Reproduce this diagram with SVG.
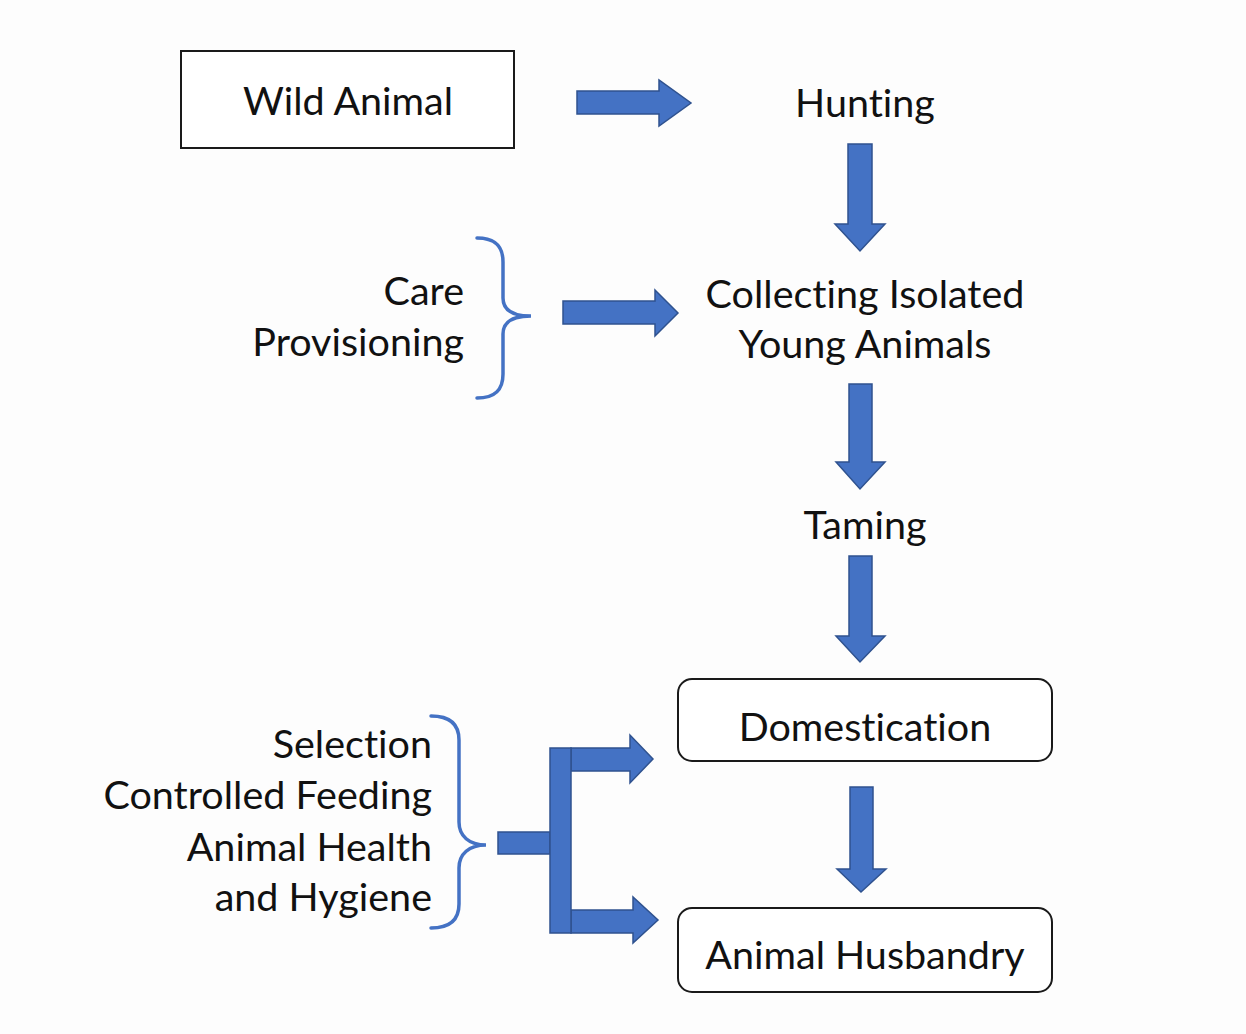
<svg xmlns="http://www.w3.org/2000/svg" width="1246" height="1034" viewBox="0 0 1246 1034">
<style>
.t{font-family:Lato,"Liberation Sans",sans-serif;font-size:39.5px;fill:#111;font-variant-ligatures:none;font-feature-settings:"liga" 0}
.c{text-anchor:middle}
.r{text-anchor:end}
.box{fill:#fff;stroke:#1a1a1a;stroke-width:2}
.arr{fill:#4472C4;stroke:#2F528F;stroke-width:1.5;stroke-linejoin:miter}
.brace{fill:none;stroke:#4472C4;stroke-width:3.5;stroke-linecap:round}
</style>
<rect width="1246" height="1034" fill="#fdfdfd"/>
<g id="wild-animal">
<rect class="box" x="181" y="51" width="333" height="97"/>
<text class="t c" x="348" y="115">Wild Animal</text>
</g>
<g id="hunting"><text class="t c" x="865" y="117">Hunting</text></g>
<g id="care-provisioning">
<text class="t r" x="464" y="305">Care</text>
<text class="t r" x="464" y="356">Provisioning</text>
<path class="brace" d="M477,238 C495,238 503,246 503,262 L503,298 C503,310 513,316 531,316 C513,316 503,322 503,334 L503,374 C503,390 495,398 477,398"/>
</g>
<g id="collecting">
<text class="t c" x="865" y="308">Collecting Isolated</text>
<text class="t c" x="865" y="358">Young Animals</text>
</g>
<g id="taming"><text class="t c" x="865" y="539">Taming</text></g>
<g id="domestication">
<rect class="box" x="678" y="679" width="374" height="82" rx="14"/>
<text class="t c" x="865" y="741">Domestication</text>
</g>
<g id="husbandry">
<rect class="box" x="678" y="908" width="374" height="84" rx="14"/>
<text class="t c" x="865" y="969">Animal Husbandry</text>
</g>
<g id="practices">
<text class="t r" x="432" y="758">Selection</text>
<text class="t r" x="432" y="809">Controlled Feeding</text>
<text class="t r" x="432" y="861">Animal Health</text>
<text class="t r" x="432" y="911">and Hygiene</text>
<path class="brace" d="M431,716 C450,716 459,724 459,740 L459,822 C459,836 469,845 486,845 C469,845 459,854 459,868 L459,904 C459,920 450,928 431,928"/>
</g>
<g id="connectors">
<polygon class="arr" points="577,91 659,91 659,80 691,103 659,126 659,114 577,114"/>
<polygon class="arr" points="848,144 872,144 872,224 885,224 860,251 835,224 848,224"/>
<polygon class="arr" points="563,301 655,301 655,290 678,313 655,336 655,324 563,324"/>
<polygon class="arr" points="849,384 872,384 872,462 885,462 860,489 836,462 849,462"/>
<polygon class="arr" points="849,556 872,556 872,636 885,636 860,662 836,636 849,636"/>
<polygon class="arr" points="850,787 873,787 873,869 886,869 861,892 837,869 850,869"/>
<rect class="arr" x="498" y="832" width="52" height="22"/>
<polygon class="arr" points="571,748 630,748 630,735 653,759 630,783 630,771 571,771"/>
<polygon class="arr" points="571,910 633,910 633,897 658,920 633,943 633,933 571,933"/>
<rect class="arr" x="550" y="748" width="21" height="185"/>
</g>
</svg>
